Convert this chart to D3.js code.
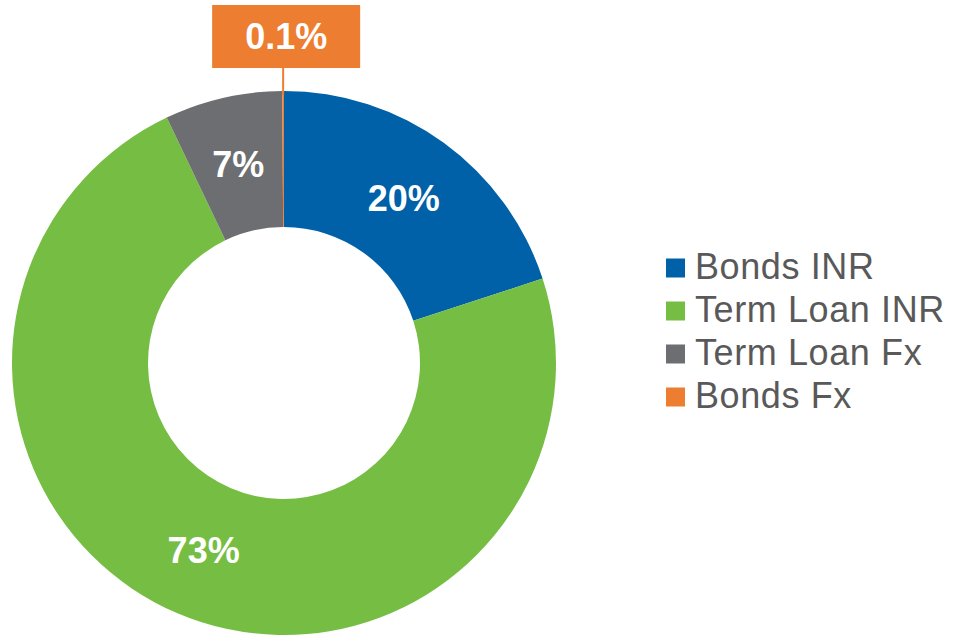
<!DOCTYPE html>
<html>
<head>
<meta charset="utf-8">
<script src="https://cdn.jsdelivr.net/npm/d3@7"></script>
<style>
  html, body { margin: 0; padding: 0; background: #ffffff; }
  svg { display: block; font-family: "Liberation Sans", Arial, sans-serif; }
</style>
</head>
<body>
<svg id="chart" width="953" height="637"></svg>
<script>
// Funding mix by instrument (%)
const categories = ["Bonds INR", "Term Loan INR", "Term Loan Fx", "Bonds Fx"];
const values = [20, 73, 7, 0.1];
const labels = ["20%", "73%", "7%", "0.1%"];
const colors = ["#0061A8", "#76BE43", "#6D6E71", "#ED7D31"];

const svg = d3.select("#chart");
const cx = 284, cy = 363;
const outerR = 272, innerR = 136;

const pie = d3.pie().sort(null).value(d => d.value);
const data = categories.map((c, i) => ({ name: c, value: values[i], label: labels[i], color: colors[i] }));
const arcs = pie(data);

const arc = d3.arc().innerRadius(innerR).outerRadius(outerR);

const g = svg.append("g").attr("transform", `translate(${cx},${cy})`);

g.selectAll("path.slice")
  .data(arcs)
  .join("path")
  .attr("class", "slice")
  .attr("d", arc)
  .attr("fill", d => d.data.color);

// Labels inside the ring for the larger slices
g.selectAll("text.inner")
  .data(arcs.filter(d => d.data.value >= 1))
  .join("text")
  .attr("class", "inner")
  .attr("transform", d => `translate(${arc.centroid(d)})`)
  .attr("text-anchor", "middle")
  .attr("dy", "0.36em")
  .attr("fill", "#ffffff")
  .attr("font-weight", "bold")
  .attr("font-size", 36)
  .text(d => d.data.label);

// Call-out box for the tiny slice
const small = arcs.filter(d => d.data.value < 1);
small.forEach(d => {
  const mid = (d.startAngle + d.endAngle) / 2;
  const ex = Math.sin(mid) * outerR;
  const ey = -Math.cos(mid) * outerR;
  const boxW = 148, boxH = 63;
  const boxTop = 5 - cy;
  g.append("line")
    .attr("x1", ex).attr("x2", ex)
    .attr("y1", boxTop + boxH).attr("y2", ey + 4)
    .attr("stroke", d.data.color)
    .attr("stroke-width", 2);
  g.append("rect")
    .attr("x", ex + 3 - boxW / 2)
    .attr("y", boxTop)
    .attr("width", boxW)
    .attr("height", boxH)
    .attr("fill", d.data.color);
  g.append("text")
    .attr("x", ex + 3)
    .attr("y", boxTop + boxH / 2)
    .attr("dy", "0.36em")
    .attr("text-anchor", "middle")
    .attr("fill", "#ffffff")
    .attr("font-weight", "bold")
    .attr("font-size", 36)
    .text(d.data.label);
});

// Legend
const legend = svg.append("g").attr("transform", "translate(666,268)");
const rowH = 43;
const item = legend.selectAll("g.item")
  .data(data)
  .join("g")
  .attr("class", "item")
  .attr("transform", (d, i) => `translate(0,${i * rowH})`);
item.append("rect")
  .attr("x", 0).attr("y", -9.5)
  .attr("width", 19).attr("height", 19)
  .attr("fill", d => d.color);
item.append("text")
  .attr("x", 29)
  .attr("y", 11)
  .attr("font-size", 36)
  .attr("letter-spacing", 0.6)
  .attr("fill", "#595959")
  .text(d => d.name);
</script>
</body>
</html>
